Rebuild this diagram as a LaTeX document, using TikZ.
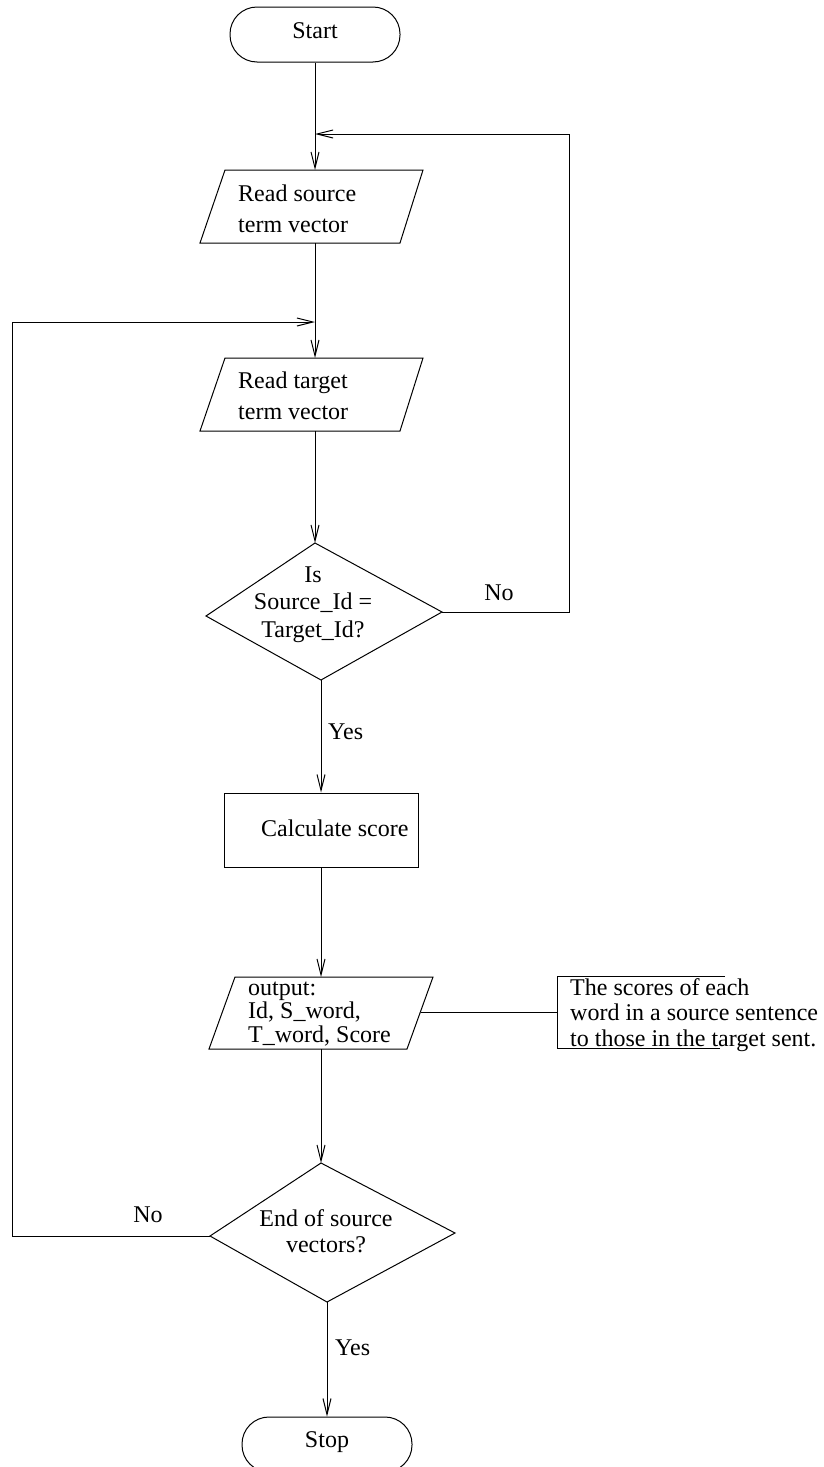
\documentclass[tikz,border=0pt]{standalone}
\usepackage{fontspec}
\setmainfont{Liberation Serif}
\usetikzlibrary{arrows.meta}

% stacked lines with a fixed baseline distance; the baseline of the box is the first line
\newcommand\leftstack[2]{\vtop{\baselineskip=#1\lineskiplimit=-\maxdimen\halign{##\hfil\cr#2\crcr}}}
\newcommand\centerstack[2]{\vtop{\baselineskip=#1\lineskiplimit=-\maxdimen\halign{\hfil##\hfil\cr#2\crcr}}}

\tikzset{
  flow/.style={draw, line width=1pt},
  conn/.style={line width=1pt, -{Straight Barb[length=16pt,width=8pt]}},
  txt/.style={inner sep=0pt, font=\fontsize{24}{29}\selectfont},
  terminal/.style={draw, line width=1pt, rounded corners=27pt, minimum width=170pt,
    minimum height=55pt, inner sep=0pt, font=\fontsize{24}{29}\selectfont},
  procbox/.style={draw, line width=1pt, minimum width=194pt, minimum height=74pt, inner sep=0pt},
}

\begin{document}
\begin{tikzpicture}[x=1pt, y=-1pt]
\useasboundingbox (0,0) rectangle (823,1467);

% ---- terminals and process box
\node[terminal, text height=10.5pt, text depth=3.5pt] (start) at (315,34.5) {Start};
\node[terminal, text height=10pt, text depth=5pt] (stop) at (327,1444.5) {Stop};
\node[procbox] (calc) at (321,830) {};
\node[txt, anchor=base west] (calctext) at (261,836) {Calculate score};

% ---- input: source vector
\coordinate (src-tl) at (225,170);
\coordinate (src-tr) at (423,170);
\coordinate (src-br) at (400,243);
\coordinate (src-bl) at (200,243);
\coordinate (src-top) at (315,170);
\coordinate (src-bot) at (315,243);
\draw[flow] (src-tl) -- (src-tr) -- (src-br) -- (src-bl) -- cycle;
\node[txt, anchor=base west] (srctext) at (238,201) {\leftstack{31pt}{Read source\cr term vector}};

% ---- input: target vector
\coordinate (tgt-tl) at (225,358);
\coordinate (tgt-tr) at (423,358);
\coordinate (tgt-br) at (400,431);
\coordinate (tgt-bl) at (200,431);
\coordinate (tgt-top) at (315,358);
\coordinate (tgt-bot) at (315,431);
\draw[flow] (tgt-tl) -- (tgt-tr) -- (tgt-br) -- (tgt-bl) -- cycle;
\node[txt, anchor=base west] (tgttext) at (238,388) {\leftstack{31pt}{Read target\cr term vector}};

% ---- decision: ids equal?
\coordinate (d1-t) at (315,543);
\coordinate (d1-r) at (442,612);
\coordinate (d1-b) at (321,680);
\coordinate (d1-l) at (206,616);
\draw[flow] (d1-t) -- (d1-r) -- (d1-b) -- (d1-l) -- cycle;
\node[txt, anchor=base] (d1text) at (313,582) {\centerstack{27.5pt}{Is\cr Source\_Id =\cr Target\_Id?}};

% ---- output
\coordinate (out-tl) at (235,977);
\coordinate (out-tr) at (433,977);
\coordinate (out-br) at (407,1049);
\coordinate (out-bl) at (209,1049);
\coordinate (out-top) at (321,977);
\coordinate (out-bot) at (321,1049);
\coordinate (out-r) at (420.5,1012);
\draw[flow] (out-tl) -- (out-tr) -- (out-br) -- (out-bl) -- cycle;
\node[txt, anchor=base west] (outtext) at (248,995) {\leftstack{23.5pt}{output:\cr Id, S\_word,\cr T\_word, Score}};

% ---- annotation bracket
\coordinate (note-tr) at (725,976);
\coordinate (note-tl) at (557,976);
\coordinate (note-bl) at (557,1048);
\coordinate (note-br) at (720,1048);
\coordinate (note-l) at (557,1012);
\draw[flow] (note-tr) -- (note-tl) -- (note-bl) -- (note-br);
\node[txt, anchor=base west] (notetext) at (570,995) {\leftstack{25.5pt}{The scores of each\cr word in a source sentence\cr to those in the target sent.}};
\draw[flow] (out-r) -- (note-l);

% ---- decision: end of source vectors?
\coordinate (d2-t) at (321,1163);
\coordinate (d2-r) at (455,1233);
\coordinate (d2-b) at (327,1302);
\coordinate (d2-l) at (210,1236);
\draw[flow] (d2-t) -- (d2-r) -- (d2-b) -- (d2-l) -- cycle;
\node[txt, anchor=base] (d2text) at (326,1226) {\centerstack{26pt}{End of source\cr vectors?}};

% ---- loop joints
\coordinate (join-src) at (315,134);
\coordinate (join-tgt) at (315,322);
\coordinate (loopr) at (569,134);
\coordinate (loopl) at (12.5,322);

% ---- connectors
\draw[conn] (start) -- (src-top);
\draw[conn] (src-bot) -- (tgt-top);
\draw[conn] (tgt-bot) -- (d1-t);
\draw[conn] (d1-b) -- (calc);
\draw[conn] (calc) -- (out-top);
\draw[conn] (out-bot) -- (d2-t);
\draw[conn] (d2-b) -- (stop);
\draw[conn] (d1-r) -| (loopr) -- (join-src);
\draw[conn] (d2-l) -| (loopl) -- (join-tgt);

% ---- branch labels
\node[txt, anchor=base] (no1) at (499,600) {No};
\node[txt, anchor=base west] (yes1) at (328,739) {Yes};
\node[txt, anchor=base] (no2) at (148,1222) {No};
\node[txt, anchor=base west] (yes2) at (335,1355) {Yes};
\end{tikzpicture}
\end{document}
